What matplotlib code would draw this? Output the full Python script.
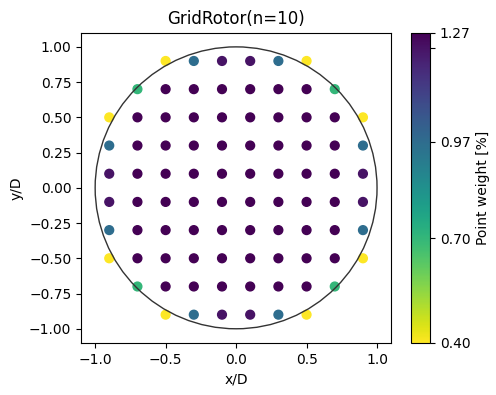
import numpy as np
import matplotlib
matplotlib.use("Agg")
import matplotlib.pyplot as plt
from matplotlib.patches import Circle

# Grid coordinates (x/D, y/D)
grid_x = [-0.9, -0.7, -0.5, -0.3, -0.1, 0.1, 0.3, 0.5, 0.7, 0.9]
grid_y = [0.9, 0.7, 0.5, 0.3, 0.1, -0.1, -0.3, -0.5, -0.7, -0.9]

# Point weights [%] (None = no point)
N = None
weights = [
    [N,     N,     0.404, 0.967, 1.231, 1.231, 0.967, 0.404, N,     N],
    [N,     0.697, 1.273, 1.273, 1.273, 1.273, 1.273, 1.273, 0.697, N],
    [0.404, 1.273, 1.273, 1.273, 1.273, 1.273, 1.273, 1.273, 1.273, 0.404],
    [0.967, 1.273, 1.273, 1.273, 1.273, 1.273, 1.273, 1.273, 1.273, 0.967],
    [1.231, 1.273, 1.273, 1.273, 1.273, 1.273, 1.273, 1.273, 1.273, 1.231],
    [1.231, 1.273, 1.273, 1.273, 1.273, 1.273, 1.273, 1.273, 1.273, 1.231],
    [0.967, 1.273, 1.273, 1.273, 1.273, 1.273, 1.273, 1.273, 1.273, 0.967],
    [0.404, 1.273, 1.273, 1.273, 1.273, 1.273, 1.273, 1.273, 1.273, 0.404],
    [N,     0.697, 1.273, 1.273, 1.273, 1.273, 1.273, 1.273, 0.697, N],
    [N,     N,     0.404, 0.967, 1.231, 1.231, 0.967, 0.404, N,     N],
]

cbar_ticks = [0.404, 0.697, 0.967, 1.231, 1.273]
cbar_labels = ["0.40", "0.70", "0.97", "", "1.27"]

xs, ys, ws = [], [], []
for j, yv in enumerate(grid_y):
    for i, xv in enumerate(grid_x):
        w = weights[j][i]
        if w is not None:
            xs.append(xv); ys.append(yv); ws.append(w)

fig = plt.figure(figsize=(4.96, 3.95), dpi=100)
ax = fig.add_axes([0.161, 0.132, 0.630, 0.785])
cax = fig.add_axes([0.829, 0.132, 0.038, 0.785])

sc = ax.scatter(xs, ys, c=ws, cmap="viridis_r", vmin=min(ws), vmax=max(ws), s=40, zorder=2)
ax.add_patch(Circle((0, 0), 1.0, fill=False, edgecolor="#333333", linewidth=1.0, zorder=3))
ax.set_xlim(-1.1, 1.1)
ax.set_ylim(-1.1, 1.1)
ax.set_aspect("equal")
ax.set_xticks([-1.0, -0.5, 0.0, 0.5, 1.0])
ax.set_yticks([-1.0, -0.75, -0.5, -0.25, 0.0, 0.25, 0.5, 0.75, 1.0])
ax.set_xlabel("x/D")
ax.set_ylabel("y/D")
ax.set_title("GridRotor(n=10)")

cb = fig.colorbar(sc, cax=cax)
cb.set_ticks(cbar_ticks)
cb.set_ticklabels(cbar_labels)
cb.set_label("Point weight [%]")

fig.savefig("out.png", dpi=100)
